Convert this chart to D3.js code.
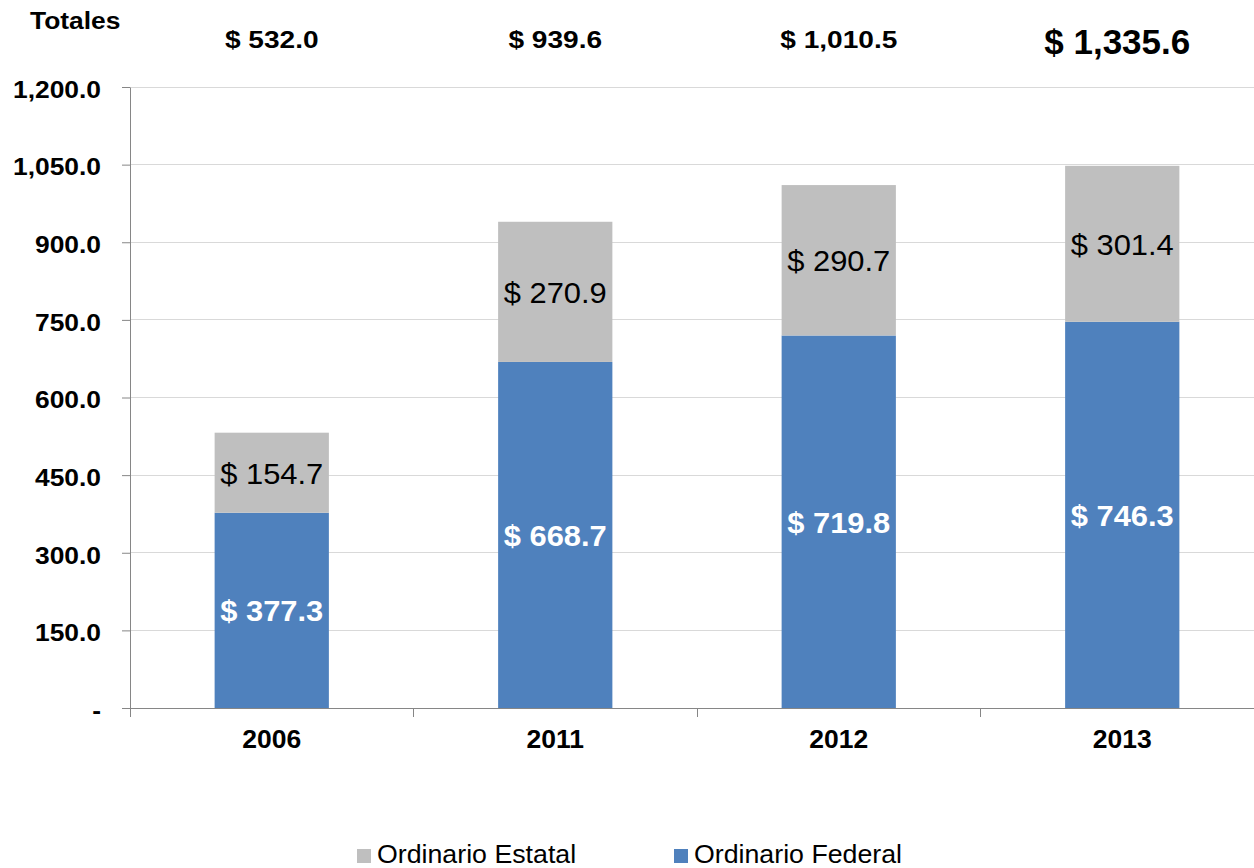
<!DOCTYPE html>
<html><head><meta charset="utf-8">
<script src="https://cdn.jsdelivr.net/npm/d3@7"></script>
<style>body{margin:0;background:#fff}svg{display:block;font-family:"Liberation Sans",Arial,sans-serif}</style>
</head><body><svg id="c" width="1254" height="868"></svg>
<script>
const categories = ["2006","2011","2012","2013"];
const federal = [377.3, 668.7, 719.8, 746.3];
const estatal = [154.7, 270.9, 290.7, 301.4];
const totals = ["$ 532.0","$ 939.6","$ 1,010.5","$ 1,335.6"];
const yTicks = [0,150,300,450,600,750,900,1050,1200];
const seriesNames = ["Ordinario Estatal","Ordinario Federal"];
const colors = {estatal:"#BFBFBF", federal:"#4F81BD"};

(function(){
const svg = d3.select("#c");
const mL = 130, mR = 1264, mT = 87, mB = 708;
const x = d3.scaleBand().domain(categories).range([mL,mR]).paddingInner(0).paddingOuter(0);
const y = d3.scaleLinear().domain([0,1200]).range([mB,mT]);
const bw = x.bandwidth()*0.403;
const fmt = d3.format(",.1f");
const cx = c => x(c)+x.bandwidth()/2;

// gridlines
svg.append("g").selectAll("line").data(yTicks.filter(d=>d>0)).join("line")
  .attr("x1",mL).attr("x2",1254).attr("y1",d=>y(d)).attr("y2",d=>y(d))
  .attr("stroke","#D9D9D9").attr("stroke-width",1).attr("shape-rendering","crispEdges");

// bars
const data = categories.map((c,i)=>({c, f:federal[i], e:estatal[i]}));
svg.append("g").selectAll("rect").data(data).join("rect")
  .attr("x",d=>cx(d.c)-bw/2).attr("width",bw)
  .attr("y",d=>y(d.f)).attr("height",d=>y(0)-y(d.f)).attr("fill",colors.federal);
svg.append("g").selectAll("rect").data(data).join("rect")
  .attr("x",d=>cx(d.c)-bw/2).attr("width",bw)
  .attr("y",d=>y(d.f+d.e)).attr("height",d=>y(d.f)-y(d.f+d.e)).attr("fill",colors.estatal);

// y axis
const yAxis = d3.axisLeft(y).tickValues(yTicks).tickSize(8).tickSizeOuter(0)
  .tickFormat(d=>d===0?"-":fmt(d));
const ga = svg.append("g").attr("transform",`translate(${mL},0)`).call(yAxis);
ga.select(".domain").attr("stroke","#868686");
ga.selectAll(".tick line").attr("stroke","#868686");
ga.selectAll(".tick text").attr("x",0).attr("dy","0.43em")
  .attr("transform","translate(-29,0) scale(1.1,1)")
  .attr("font-size",24).attr("font-weight","bold")
  .attr("fill","#000").attr("font-family","Liberation Sans, Arial, sans-serif");

// x axis
const xAxis = d3.axisBottom(x).tickSize(0).tickSizeOuter(0);
const gx = svg.append("g").attr("transform",`translate(0,${mB})`).call(xAxis);
gx.select(".domain").attr("stroke","#868686");
gx.selectAll(".tick text").attr("dy",0).attr("y",0)
  .attr("transform","translate(0,40) scale(1.06,1)")
  .attr("font-size",25).attr("font-weight","bold")
  .attr("fill","#000").attr("font-family","Liberation Sans, Arial, sans-serif");
// category separators
svg.append("g").selectAll("line").data(categories).join("line")
  .attr("x1",d=>x(d)).attr("x2",d=>x(d)).attr("y1",mB).attr("y2",mB+9)
  .attr("stroke","#868686").attr("shape-rendering","crispEdges");

// inside labels
svg.append("g").selectAll("text").data(data).join("text")
  .attr("transform",d=>`translate(${cx(d.c)},${(y(0)+y(d.f))/2}) scale(1.03,1)`)
  .attr("text-anchor","middle").attr("dy","0.36em")
  .attr("font-size",30).attr("font-weight","bold").attr("fill","#fff")
  .text(d=>"$ "+fmt(d.f));
svg.append("g").selectAll("text").data(data).join("text")
  .attr("transform",d=>`translate(${cx(d.c)},${(y(d.f)+y(d.f+d.e))/2}) scale(1.03,1)`)
  .attr("text-anchor","middle").attr("dy","0.36em")
  .attr("font-size",30).attr("font-weight","normal").attr("fill","#000")
  .text(d=>"$ "+fmt(d.e));

// totals
svg.append("text").attr("transform","translate(30,29) scale(1.1,1)").attr("text-anchor","start")
  .attr("font-size",24).attr("font-weight","bold").text("Totales");
svg.append("g").selectAll("text").data(categories).join("text")
  .attr("transform",(d,i)=>i===3?`translate(${cx(d)-5},54)`:`translate(${cx(d)},48) scale(1.17,1)`)
  .attr("text-anchor","middle")
  .attr("font-size",(d,i)=>i===3?35:24).attr("font-weight","bold")
  .text((d,i)=>totals[i]);

// legend
const leg = [{n:seriesNames[0],c:colors.estatal,x:357},{n:seriesNames[1],c:colors.federal,x:674}];
const lg = svg.append("g").selectAll("g").data(leg).join("g").attr("transform",d=>`translate(${d.x},0)`);
lg.append("rect").attr("x",0).attr("y",849).attr("width",14).attr("height",14).attr("fill",d=>d.c);
lg.append("text").attr("transform","translate(20,863) scale(1.07,1)").attr("font-size",25).attr("fill","#000").text(d=>d.n);
})();
</script></body></html>
